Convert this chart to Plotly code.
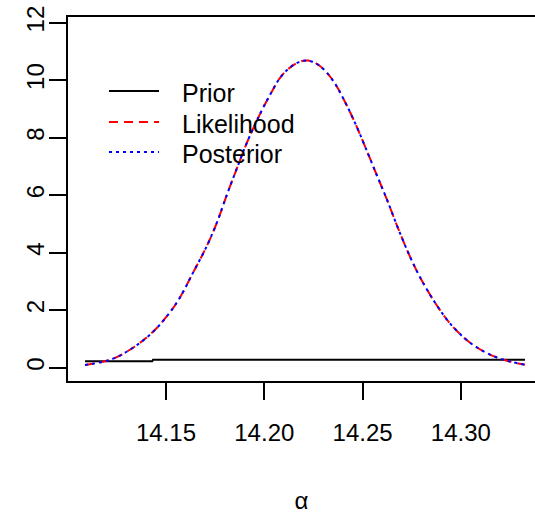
import plotly.graph_objects as go

# Grid of alpha values where the densities were evaluated
alpha_grid = [14.1088, 14.1224, 14.1334, 14.1427, 14.1512, 14.1571, 14.1639, 14.1707,
              14.1758, 14.1809, 14.1860, 14.1910, 14.1978, 14.2038, 14.2080, 14.2122,
              14.2173, 14.2224, 14.2283, 14.2351, 14.2410, 14.2470, 14.2521, 14.2572,
              14.2623, 14.2682, 14.2741, 14.2801, 14.2877, 14.2953, 14.3046, 14.3148,
              14.3250, 14.3326]

likelihood = [0.09, 0.29, 0.70, 1.20, 1.85, 2.44, 3.32, 4.22,
              5.03, 6.00, 6.92, 7.80, 8.82, 9.60, 10.08, 10.39,
              10.62, 10.68, 10.49, 9.97, 9.25, 8.38, 7.55, 6.70,
              5.86, 4.82, 3.86, 3.03, 2.17, 1.47, 0.87, 0.45,
              0.21, 0.10]

posterior = [0.09, 0.29, 0.70, 1.20, 1.85, 2.44, 3.32, 4.22,
             5.03, 6.00, 6.92, 7.80, 8.82, 9.60, 10.08, 10.39,
             10.62, 10.68, 10.49, 9.97, 9.25, 8.38, 7.55, 6.70,
             5.86, 4.82, 3.86, 3.03, 2.17, 1.47, 0.87, 0.45,
             0.21, 0.10]

# Nearly flat prior density
prior_alpha = [14.1088, 14.1430, 14.1434, 14.3326]
prior = [0.22, 0.22, 0.27, 0.27]

x_ticks = [14.15, 14.20, 14.25, 14.30]
y_ticks = [0, 2, 4, 6, 8, 10, 12]

legend_labels = ["Prior", "Likelihood", "Posterior"]

FONT = "Liberation Sans"

# plot-area geometry in pixels
W, H = 535, 514
ML, MR, MT, MB = 68, 0, 17, 133
PW, PH = W - ML - MR, H - MT - MB


def px_x(px):
    return (px - ML) / PW


def px_y(py):
    return 1 - (py - MT) / PH


styles = [
    dict(color="black", width=2),
    dict(color="#ff0000", width=2, dash="9px,6px"),
    dict(color="#0000ff", width=2, dash="3px,4px"),
]

fig = go.Figure()
fig.add_trace(go.Scatter(x=prior_alpha, y=prior, mode="lines", name=legend_labels[0],
                         line=styles[0]))
fig.add_trace(go.Scatter(x=alpha_grid, y=likelihood, mode="lines", name=legend_labels[1],
                         line=dict(**styles[1], shape="spline")))
fig.add_trace(go.Scatter(x=alpha_grid, y=posterior, mode="lines", name=legend_labels[2],
                         line=dict(**styles[2], shape="spline")))

# legend box drawn R-style: long line samples followed by labels
row_y = [91, 122, 152]
for label, st, ry in zip(legend_labels, styles, row_y):
    fig.add_shape(type="line", xref="paper", yref="paper",
                  x0=px_x(109), x1=px_x(159), y0=px_y(ry), y1=px_y(ry),
                  line=st)
    fig.add_annotation(xref="paper", yref="paper", x=px_x(180), y=px_y(ry + 2),
                       xanchor="left", yanchor="middle", text=label, showarrow=False,
                       font=dict(family=FONT, size=25, color="black"))

axis_common = dict(showgrid=False, zeroline=False, showline=True, linecolor="black",
                   linewidth=2, ticks="outside", ticklen=17, tickwidth=2, tickcolor="black")

fig.update_layout(
    width=W, height=H,
    margin=dict(l=ML, r=MR, t=MT, b=MB),
    paper_bgcolor="white", plot_bgcolor="white",
    font=dict(family=FONT, size=24, color="black"),
    showlegend=False,
    xaxis=dict(range=[14.10015, 14.33769], tickvals=x_ticks, tickformat=".2f",
               mirror=True, ticklabelstandoff=12,
               tickfont=dict(family=FONT, size=24, color="black"),
               title=dict(text="α", standoff=50, font=dict(family=FONT, size=24, color="black")),
               **axis_common),
    yaxis=dict(range=[-0.467, 12.197], tickvals=y_ticks, tickangle=-90,
               mirror=False, ticklabelstandoff=-5,
               tickfont=dict(family=FONT, size=24, color="black"),
               **axis_common),
)

fig.write_html("out.html")
